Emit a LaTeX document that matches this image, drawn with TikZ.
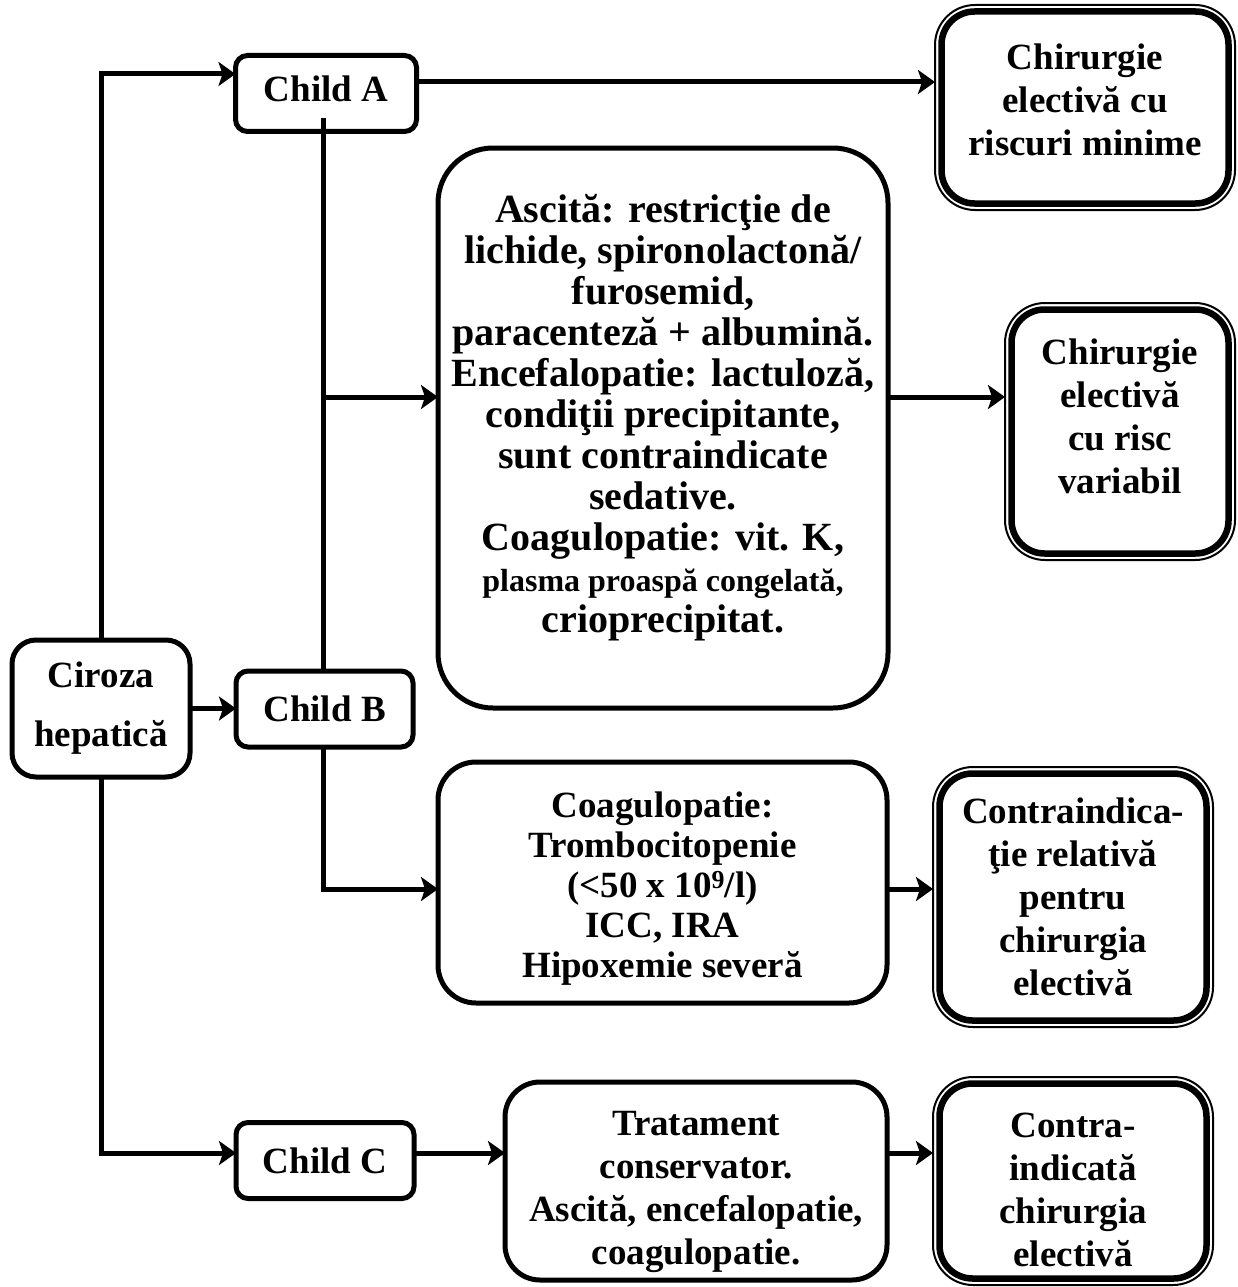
\documentclass[tikz,border=0pt]{standalone}
\usepackage{fontspec}
\setmainfont{Liberation Serif}
\usetikzlibrary{arrows.meta}
% zero-width struts that shift a text block inside its frame
\newcommand\padbelow[1]{\rule[-#1]{0pt}{#1}}
\newcommand\padabove[1]{\rule{0pt}{#1}}
% inner thick frame of a double-bordered result box
\newcommand\innerframe[1]{%
  \draw[line width=6.5pt, rounded corners=33pt]
    ([shift={(6.5,6.5)}]#1.north west) rectangle ([shift={(-6.5,-6.5)}]#1.south east);}
\begin{document}
\begin{tikzpicture}[x=1pt,y=-1pt,
  base/.style={align=center, inner sep=0pt, outer sep=0pt,
    font=\bfseries\fontsize{37}{43}\selectfont},
  box/.style={base, draw, line width=5pt, rounded corners=#1},
  box/.default=12pt,
  dbox/.style={base, draw, line width=2pt, rounded corners=40pt},
  sized/.style 2 args={minimum width=#1pt, minimum height=#2pt},
  conn/.style={line width=5pt},
  arr/.style={conn, -{Stealth[length=17pt,width=24pt,inset=4pt]}}]

\fill[white] (0,0) rectangle (1237,1287);
\useasboundingbox (0,0) rectangle (1237,1287);

% left column
\node[box=24pt, sized={178}{137}] (cir) at (101,708.5) {Ciroza\\[16pt]hepatică};
\node[box, sized={181}{76}] (ca) at (326,93.5) {Child A\padbelow{10pt}};
\node[box, sized={177}{76}] (cb) at (324.5,709) {Child B};
\node[box, sized={178}{76}] (cc) at (325,1160.5) {Child C};

% middle column
\node[box=55pt, sized={450}{560}, font=\bfseries\fontsize{40}{41}\selectfont] (big) at (663,428)
  {Ascită: restricţie de\\
   lichide, spironolactonă/\\
   furosemid,\\
   paracenteză + albumină.\\
   Encefalopatie: lactuloză,\\
   condiţii precipitante,\\
   sunt contraindicate\\
   sedative.\\
   Coagulopatie: vit. K,\\
   {\fontsize{32}{41}\selectfont plasma proaspă congelată,}\\
   crioprecipitat.\padbelow{30pt}};
\node[box=38pt, sized={449}{241}, font=\bfseries\fontsize{37}{40}\selectfont] (coag) at (662.5,882.5)
  {\padabove{37pt}Coagulopatie:\\Trombocitopenie\\(<50 x 10\textsuperscript{9}/l)\\ICC, IRA\\Hipoxemie severă};
\node[box=35pt, sized={382}{198}] (trat) at (696,1181)
  {\padabove{47pt}Tratament\\conservator.\\Ascită, encefalopatie,\\coagulopatie.};

% right column
\node[dbox, sized={300}{205}] (r1) at (1085,107.5) {Chirurgie\\electivă cu\\riscuri minime\padbelow{16pt}};
\node[dbox, sized={230}{257}] (r2) at (1120,431.5) {Chirurgie\\electivă\\cu risc\\variabil\padbelow{30pt}};
\node[dbox, sized={280}{260}] (r3) at (1073,897) {Contraindica-\\ţie relativă\\pentru\\chirurgia\\electivă};
\node[dbox, sized={280}{208}] (r4) at (1073,1181) {\padabove{42pt}Contra-\\indicată\\chirurgia\\electivă};
\innerframe{r1}
\innerframe{r2}
\innerframe{r3}
\innerframe{r4}

% connectors
\coordinate (spine) at ([xshift=-3pt]ca.south);
\coordinate (bigin) at ([yshift=31pt]big.west);
\coordinate (coagin) at ([yshift=-6.5pt]coag.west);
\coordinate (tratin) at ([yshift=7.5pt]cc.east);

\draw[arr] (cir.north) |- ([yshift=19.5pt]ca.west);
\draw[arr] (cir.east) -- (cir.east -| cb.west);
\draw[arr] (cir.south) |- ([yshift=7.5pt]cc.west);
\draw[arr] ([yshift=11.5pt]ca.east) -- ([yshift=11.5pt]ca.east -| r1.west);
\draw[conn] ([yshift=13pt]spine) -- (spine |- cb.north);
\draw[arr] (spine |- bigin) -- (bigin);
\draw[arr] (bigin -| big.east) -- (bigin -| r2.west);
\draw[arr] (spine |- cb.south) |- (coagin);
\draw[arr] (coagin -| coag.east) -- (coagin -| r3.west);
\draw[arr] (tratin) -- (tratin -| trat.west);
\draw[arr] (tratin -| trat.east) -- (tratin -| r4.west);
\end{tikzpicture}
\end{document}
